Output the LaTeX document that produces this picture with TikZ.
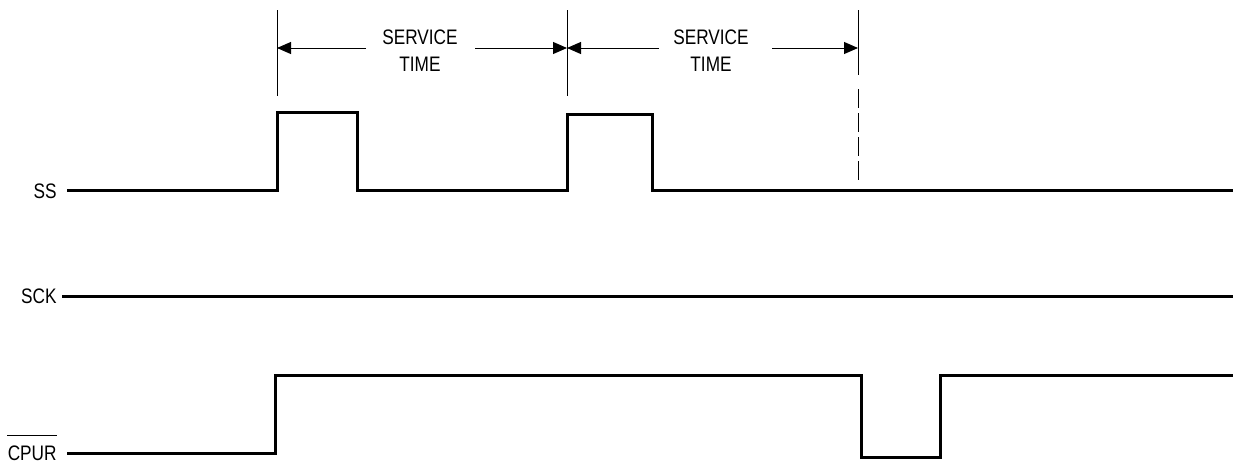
\documentclass[tikz,border=0pt]{standalone}
\usepackage{fontspec}
\setmainfont{Liberation Sans}[FakeStretch=0.82]
\usetikzlibrary{arrows.meta}
\begin{document}
\begin{tikzpicture}[x=0.5pt,y=-0.5pt,
  sig/.style={line width=1.5pt, line join=miter},
  dim/.style={line width=0.5pt},
  dimarrow/.style={dim,-{Triangle[length=7pt,width=6pt]}},
  lbl/.style={font=\fontsize{10.5}{12}\selectfont, inner sep=0pt, anchor=base east},
  dimtext/.style={font=\fontsize{10.5}{13.5}\selectfont, inner sep=0pt, align=center}]
\useasboundingbox (0,0) rectangle (1235,461);
% labels
\node[lbl] (ss) at (57,198.5) {SS};
\node[lbl] (sck) at (57,303.5) {SCK};
\node[lbl] (cpur) at (57,460) {CPUR};
\draw[line width=0.5pt] ([yshift=4.5pt]cpur.north west) -- ([yshift=4.5pt]cpur.north east);
% SS signal
\coordinate (ss0) at (67,190);
\coordinate (ssR1) at (277,190);
\coordinate (ssF1) at (357,112);
\coordinate (ssR2) at (567,190);
\coordinate (ssF2) at (652,114);
\coordinate (ssE) at (1233,190);
\draw[sig] (ss0) -- (ssR1) -- (ssR1 |- ssF1) -- (ssF1) -- (ssF1 |- ss0) -- (ssR2)
  -- (ssR2 |- ssF2) -- (ssF2) -- (ssF2 |- ss0) -- (ssE);
% SCK signal
\coordinate (sck0) at (62,296);
\coordinate (sckE) at (1233,296);
\draw[sig] (sck0) -- (sckE);
% CPUR signal
\coordinate (cp0) at (67,453);
\coordinate (cpR1) at (275,453);
\coordinate (cpF) at (861,375);
\coordinate (cpLow) at (861,457);
\coordinate (cpR2) at (940,457);
\coordinate (cpE) at (1233,375);
\draw[sig] (cp0) -- (cpR1) -- (cpR1 |- cpF) -- (cpF) -- (cpLow) -- (cpR2) -- (cpR2 |- cpE) -- (cpE);
% dimension ticks
\coordinate (t1a) at (277,10); \coordinate (t1b) at (277,96);
\coordinate (t2a) at (567,10); \coordinate (t2b) at (567,96);
\coordinate (t3a) at (858,10); \coordinate (t3b) at (858,75);
\coordinate (t3c) at (858,89); \coordinate (t3d) at (858,180);
\draw[dim] (t1a) -- (t1b);
\draw[dim] (t2a) -- (t2b);
\draw[dim] (t3a) -- (t3b);
\draw[dim, dash pattern=on 9.25pt off 2.75pt] (t3c) -- (t3d);
% service time labels
\node[dimtext] (st1) at (420,51) {SERVICE\\TIME};
\node[dimtext] (st2) at (711,51) {SERVICE\\TIME};
\coordinate (a1l) at (366,48); \coordinate (a1r) at (475,48);
\coordinate (a2l) at (659,48); \coordinate (a2r) at (772,48);
\draw[dimarrow] (a1l) -- (t1a |- a1l);
\draw[dimarrow] (a1r) -- (t2a |- a1r);
\draw[dimarrow] (a2l) -- (t2a |- a2l);
\draw[dimarrow] (a2r) -- (t3a |- a2r);
\end{tikzpicture}
\end{document}
